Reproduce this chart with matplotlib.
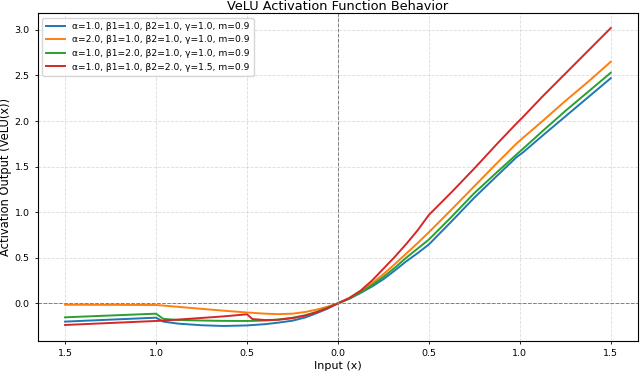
import matplotlib
matplotlib.use("Agg")
import matplotlib.pyplot as plt

x = [-1.5, -1.0, -0.96, -0.88, -0.75, -0.63, -0.5, -0.47, -0.4, -0.33, -0.25, -0.18, -0.12, -0.06, 0.0,
     0.0625, 0.125, 0.1875, 0.25, 0.3125, 0.375, 0.4375, 0.5,
     0.625, 0.75, 0.875, 0.98, 1.02, 1.125, 1.25, 1.375, 1.5]

blue = [-0.20, -0.157, -0.20, -0.222, -0.24, -0.248, -0.242, -0.238, -0.228, -0.212, -0.19, -0.155, -0.11, -0.06, 0.0,
        0.05, 0.115, 0.185, 0.265, 0.36, 0.46, 0.55, 0.646,
        0.90, 1.16, 1.40, 1.60, 1.66, 1.84, 2.05, 2.26, 2.47]
orange = [-0.015, -0.018, -0.024, -0.038, -0.06, -0.08, -0.10, -0.104, -0.113, -0.118, -0.113, -0.095, -0.07, -0.038, 0.0,
          0.055, 0.13, 0.22, 0.32, 0.43, 0.545, 0.66, 0.78,
          1.03, 1.285, 1.54, 1.75, 1.82, 2.0, 2.22, 2.43, 2.65]
green = [-0.153, -0.113, -0.17, -0.182, -0.188, -0.192, -0.193, -0.192, -0.188, -0.178, -0.158, -0.13, -0.095, -0.05, 0.0,
         0.052, 0.12, 0.20, 0.29, 0.39, 0.50, 0.60, 0.70,
         0.95, 1.21, 1.44, 1.63, 1.70, 1.89, 2.11, 2.32, 2.53]
red = [-0.237, -0.193, -0.19, -0.178, -0.16, -0.143, -0.12, -0.172, -0.183, -0.18, -0.163, -0.135, -0.10, -0.055, 0.0,
       0.06, 0.14, 0.25, 0.38, 0.51, 0.65, 0.80, 0.97,
       1.22, 1.48, 1.75, 1.97, 2.05, 2.27, 2.52, 2.77, 3.02]

labels = [
    "α=1.0, β1=1.0, β2=1.0, γ=1.0, m=0.9",
    "α=2.0, β1=1.0, β2=1.0, γ=1.0, m=0.9",
    "α=1.0, β1=2.0, β2=1.0, γ=1.0, m=0.9",
    "α=1.0, β1=1.0, β2=2.0, γ=1.5, m=0.9",
]
colors = ["#1f77b4", "#ff7f0e", "#2ca02c", "#d62728"]

xticks = [-1.5, -1.0, -0.5, 0.0, 0.5, 1.0, 1.5]
xticklabels = ["1.5", "1.0", "0.5", "0.0", "0.5", "1.0", "1.5"]
yticks = [0.0, 0.5, 1.0, 1.5, 2.0, 2.5, 3.0]

fig = plt.figure(figsize=(6.4, 3.75), dpi=100)
ax = fig.add_axes([0.059, 0.091, 0.938, 0.874])

for ys, lab, c in zip([blue, orange, green, red], labels, colors):
    ax.plot(x, ys, color=c, lw=1.4, label=lab)

ax.axhline(0, color="gray", ls="--", lw=0.7)
ax.axvline(0, color="gray", ls="--", lw=0.7)
ax.grid(True, ls="--", color="#cccccc", lw=0.6, alpha=0.7)

ax.set_xticks(xticks)
ax.set_xticklabels(xticklabels)
ax.set_yticks(yticks)
ax.tick_params(labelsize=6.8, length=2.5, width=0.6)
for s in ax.spines.values():
    s.set_linewidth(0.8)

ax.set_xlabel("Input (x)", fontsize=8, labelpad=2)
ax.set_ylabel("Activation Output (VeLU(x))", fontsize=8.3, labelpad=2)
ax.set_title("VeLU Activation Function Behavior", fontsize=9.3, pad=2)
ax.legend(loc="upper left", fontsize=6.6, handlelength=2.0, borderpad=0.45,
          labelspacing=0.5, framealpha=0.8)

fig.savefig("out.png", dpi=100)
